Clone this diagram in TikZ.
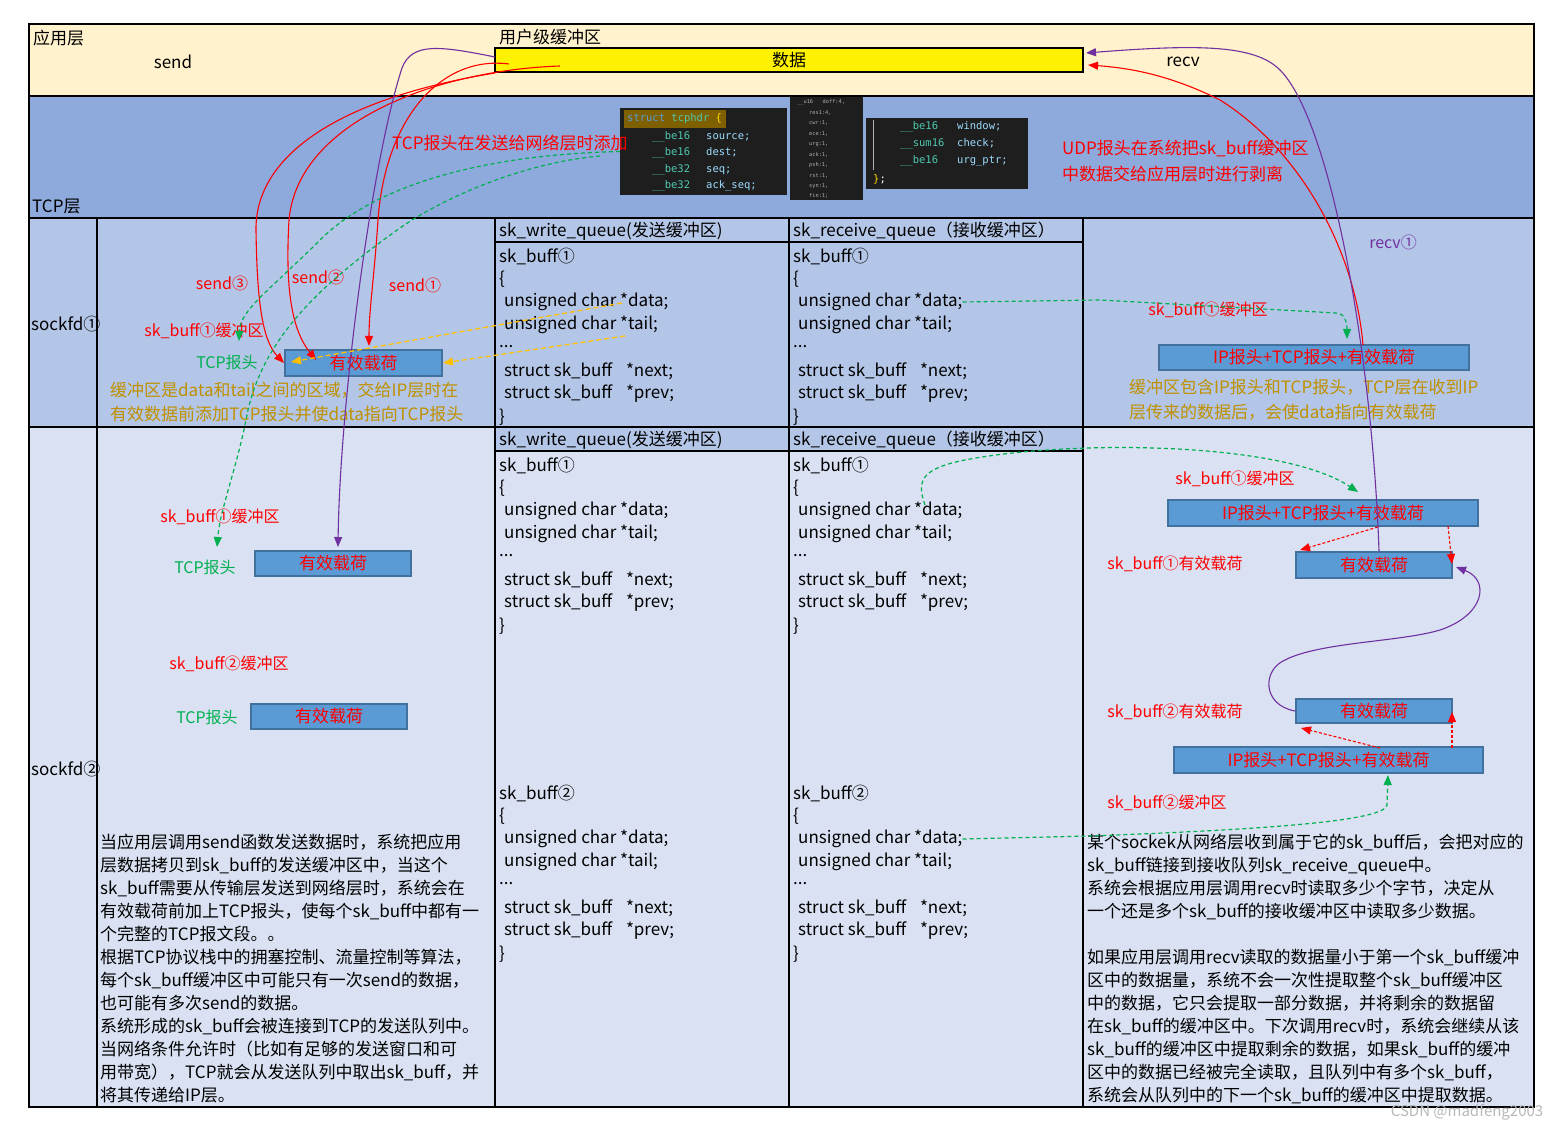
\documentclass[tikz,border=0pt]{standalone}
\usepackage{fontspec}
\setmainfont{Noto Sans CJK SC}
\newfontfamily\codefont{DejaVu Sans Mono}
\usetikzlibrary{arrows.meta}
\definecolor{appbg}{HTML}{FFF2CC}
\definecolor{tcpbg}{HTML}{8EA9DB}
\definecolor{skonebg}{HTML}{B4C6E7}
\definecolor{sktwobg}{HTML}{D9E1F2}
\definecolor{boxfill}{HTML}{5B9BD5}
\definecolor{boxline}{HTML}{41719C}
\definecolor{grn}{HTML}{00B050}
\definecolor{goldtxt}{HTML}{BF9000}
\definecolor{goldline}{HTML}{FFC000}
\definecolor{purp}{HTML}{7030A0}
\definecolor{codebg}{HTML}{1E1E1E}
\definecolor{kw}{HTML}{569CD6}
\definecolor{ty}{HTML}{4EC9B0}
\definecolor{fld}{HTML}{9CDCFE}
\definecolor{brc}{HTML}{FFD700}
\definecolor{hl}{HTML}{7F6000}
\definecolor{tinytxt}{HTML}{B0B0B0}
\newcommand\skstruct[4]{%
  \node[txt] (#1h) at (#2,#3) {#4};
  \node[txt] (#1o) at (#2,#3+23) {\{};
  \node[txt] (#1d) at (#2+5,#3+46) {unsigned char *data;};
  \node[txt] (#1t) at (#2+5,#3+69) {unsigned char *tail;};
  \node[txt, anchor=base west] (#1e) at (#2,#3+91) {...};
  \node[txt] (#1n) at (#2+5,#3+115) {struct sk\_buff\hspace{0.8em}*next;};
  \node[txt] (#1p) at (#2+5,#3+138) {struct sk\_buff\hspace{0.8em}*prev;};
  \node[txt] (#1c) at (#2,#3+161) {\}};
}
\begin{document}
\begin{tikzpicture}[x=1pt,y=-1pt,
  txt/.style={inner sep=0pt, anchor=west, font=\fontsize{17}{23}\selectfont},
  lbl/.style={inner sep=0pt, font=\fontsize{16}{20}\selectfont},
  para/.style={inner sep=0pt, anchor=north west, align=left, font=\fontsize{17}{23}\selectfont},
  payload/.style={draw=boxline, line width=2pt, fill=boxfill, text=red, inner sep=0pt, font=\fontsize{17}{20}\selectfont},
  grid/.style={line width=2pt, draw=black},
  code/.style={inner sep=0pt, anchor=west, text=fld, font=\codefont\fontsize{10.5}{12}\selectfont},
  tinycode/.style={inner sep=0pt, anchor=west, text=tinytxt, font=\codefont\fontsize{5.3}{6}\selectfont},
  tip/.style={-{Triangle[length=10pt,width=8pt]}},
  redl/.style={tip, draw=red, line width=1.1pt},
  purl/.style={tip, draw=purp, line width=1.1pt},
  grnl/.style={tip, draw=grn, line width=1.2pt, dash pattern=on 4pt off 3pt},
  goldl/.style={tip, draw=goldline, line width=1.3pt, dash pattern=on 5pt off 3pt},
  reddash/.style={tip, draw=red, line width=1.1pt, dash pattern=on 3pt off 2pt}
]
\useasboundingbox (0,0) rectangle (1565,1131);
\fill[white] (0,0) rectangle (1565,1131);
% backgrounds
\fill[appbg] (29,24) rectangle (1534,96);
\fill[tcpbg] (29,96) rectangle (1534,218);
\fill[skonebg] (29,218) rectangle (1534,427);
\fill[sktwobg] (29,427) rectangle (1534,1107);
\fill[skonebg] (495,427) rectangle (1083,451);
% grid
\draw[grid] (29,24) rectangle (1534,1107);
\draw[grid] (29,96) -- (1534,96);
\draw[grid] (29,218) -- (1534,218);
\draw[grid] (29,427) -- (1534,427);
\draw[grid] (97,218) -- (97,1107);
\draw[grid] (495,218) -- (495,1107);
\draw[grid] (789,218) -- (789,1107);
\draw[grid] (1083,218) -- (1083,1107);
\draw[grid] (495,242) -- (1083,242);
\draw[grid] (495,451) -- (1083,451);

% application layer
\node[draw, line width=2pt, fill=yellow, minimum width=588pt, minimum height=24pt, inner sep=0pt, font=\fontsize{17}{20}\selectfont] (data) at (789,60) {数据};
\node[txt] (applabel) at (33,38) {应用层};
\node[txt] (ubuf) at (499,37) {用户级缓冲区};
\node[txt, anchor=center] (sendlbl) at (173,62) {send};
\node[txt, anchor=center] (recvlbl) at (1183,62) {recv};

% TCP layer
\node[txt] (tcplabel) at (32,207) {TCP层};
\node[fill=codebg, minimum width=167pt, minimum height=87pt, inner sep=0pt] (hdr1) at (703.5,151.5) {};
\node[fill=codebg, minimum width=73pt, minimum height=103pt, inner sep=0pt] (hdr2) at (826.5,148.5) {};
\node[fill=codebg, minimum width=162pt, minimum height=71pt, inner sep=0pt] (hdr3) at (947,153.5) {};
\fill[hl] (624,110) rectangle (726,128);
\node[code] (c11) at (627,119) {\textcolor{kw}{struct} \textcolor{ty}{tcphdr} \textcolor{brc}{\{}};
\node[code] (c12) at (652,137) {\makebox[54pt][l]{\textcolor{ty}{\_\_be16}}source;};
\node[code] (c13) at (652,153) {\makebox[54pt][l]{\textcolor{ty}{\_\_be16}}dest;};
\node[code] (c14) at (652,170) {\makebox[54pt][l]{\textcolor{ty}{\_\_be32}}seq;};
\node[code] (c15) at (652,186) {\makebox[54pt][l]{\textcolor{ty}{\_\_be32}}ack\_seq;};
\node[tinycode] (t1) at (797,102) {\_\_u16\ \ \ doff:4,};
\node[tinycode] (t2) at (809,112.5) {res1:4,};
\node[tinycode] (t3) at (809,123) {cwr:1,};
\node[tinycode] (t4) at (809,133.5) {ece:1,};
\node[tinycode] (t5) at (809,144) {urg:1,};
\node[tinycode] (t6) at (809,154.5) {ack:1,};
\node[tinycode] (t7) at (809,165) {psh:1,};
\node[tinycode] (t8) at (809,175.5) {rst:1,};
\node[tinycode] (t9) at (809,186) {syn:1,};
\node[tinycode] (t10) at (809,196) {fin:1;};
\draw[gray!60, line width=0.6pt] (873,120) -- (873,170);
\node[code] (c31) at (900,127) {\makebox[57pt][l]{\textcolor{ty}{\_\_be16}}window;};
\node[code] (c32) at (900,144) {\makebox[57pt][l]{\textcolor{ty}{\_\_sum16}}check;};
\node[code] (c33) at (900,161) {\makebox[57pt][l]{\textcolor{ty}{\_\_be16}}urg\_ptr;};
\node[code] (c34) at (873,179) {\textcolor{brc}{\}}\textcolor{white}{;}};
\node[txt, text=red] (tcpadd) at (392,143) {TCP报头在发送给网络层时添加};
\node[txt, text=red] (udpa) at (1062,149) {UDP报头在系统把sk\_buff缓冲区};
\node[txt, text=red] (udpb) at (1062,174) {中数据交给应用层时进行剥离};

% row labels
\node[txt] (sock1) at (31,324) {sockfd①};
\node[txt] (sock2) at (31,769) {sockfd②};

% queue headers
\node[txt] (wq1) at (499,231) {sk\_write\_queue(发送缓冲区)};
\node[txt] (rq1) at (793,231) {sk\_receive\_queue（接收缓冲区）};
\node[txt] (wq2) at (499,440) {sk\_write\_queue(发送缓冲区)};
\node[txt] (rq2) at (793,440) {sk\_receive\_queue（接收缓冲区）};

\skstruct{wa}{499}{256}{sk\_buff①}
\skstruct{ra}{793}{256}{sk\_buff①}
\skstruct{wb}{499}{465}{sk\_buff①}
\skstruct{rb}{793}{465}{sk\_buff①}
\skstruct{wc}{499}{793}{sk\_buff②}
\skstruct{rc}{793}{793}{sk\_buff②}

% left sockfd1
\node[lbl, text=red] (sendthree) at (222,283) {send③};
\node[lbl, text=red] (sendtwo) at (318,277) {send②};
\node[lbl, text=red] (sendone) at (415,285) {send①};
\node[lbl, text=red] (lbufa) at (204,331) {sk\_buff①缓冲区};
\node[lbl, text=grn] (ltcpa) at (227,362) {TCP报头};
\node[payload, minimum width=157pt, minimum height=26pt] (pay1) at (363.5,363) {有效载荷};
\node[txt, text=goldtxt] (golda) at (110,390) {缓冲区是data和tail之间的区域，交给IP层时在};
\node[txt, text=goldtxt] (goldb) at (110,414) {有效数据前添加TCP报头并使data指向TCP报头};

% right sockfd1
\node[lbl, text=purp] (recvone) at (1393,242) {recv①};
\node[lbl, text=red] (rbufa) at (1208,310) {sk\_buff①缓冲区};
\node[payload, minimum width=310pt, minimum height=25pt] (ip1) at (1314,357.5) {IP报头+TCP报头+有效载荷};
\node[txt, text=goldtxt] (goldc) at (1129,387) {缓冲区包含IP报头和TCP报头，TCP层在收到IP};
\node[txt, text=goldtxt] (goldd) at (1129,412) {层传来的数据后，会使data指向有效载荷};

% left sockfd2
\node[lbl, text=red] (lbufb) at (220,517) {sk\_buff①缓冲区};
\node[lbl, text=grn] (ltcpb) at (205,567) {TCP报头};
\node[payload, minimum width=156pt, minimum height=25pt] (pay2) at (333,563.5) {有效载荷};
\node[lbl, text=red] (lbufc) at (229,664) {sk\_buff②缓冲区};
\node[lbl, text=grn] (ltcpc) at (207,717) {TCP报头};
\node[payload, minimum width=156pt, minimum height=25pt] (pay3) at (329,716.5) {有效载荷};

\node[para] (leftpara) at (100,834) {当应用层调用send函数发送数据时，系统把应用\\
层数据拷贝到sk\_buff的发送缓冲区中，当这个\\
sk\_buff需要从传输层发送到网络层时，系统会在\\
有效载荷前加上TCP报头，使每个sk\_buff中都有一\\
个完整的TCP报文段。。\\
根据TCP协议栈中的拥塞控制、流量控制等算法，\\
每个sk\_buff缓冲区中可能只有一次send的数据，\\
也可能有多次send的数据。\\
系统形成的sk\_buff会被连接到TCP的发送队列中。\\
当网络条件允许时（比如有足够的发送窗口和可\\
用带宽），TCP就会从发送队列中取出sk\_buff，并\\
将其传递给IP层。};

% right sockfd2
\node[lbl, text=red] (rbufb) at (1235,479) {sk\_buff①缓冲区};
\node[payload, minimum width=310pt, minimum height=26pt] (ip2) at (1323,513) {IP报头+TCP报头+有效载荷};
\node[lbl, text=red] (rpayla) at (1175,564) {sk\_buff①有效载荷};
\node[payload, minimum width=156pt, minimum height=26pt] (pay4) at (1374,565) {有效载荷};
\node[lbl, text=red] (rpaylb) at (1175,712) {sk\_buff②有效载荷};
\node[payload, minimum width=156pt, minimum height=24pt] (pay5) at (1374,711) {有效载荷};
\node[payload, minimum width=309pt, minimum height=26pt] (ip3) at (1328.5,760) {IP报头+TCP报头+有效载荷};
\node[lbl, text=red] (rbufc) at (1167,803) {sk\_buff②缓冲区};

\node[para] (rightpara) at (1087,834) {某个sockek从网络层收到属于它的sk\_buff后，会把对应的\\
sk\_buff链接到接收队列sk\_receive\_queue中。\\
系统会根据应用层调用recv时读取多少个字节，决定从\\
一个还是多个sk\_buff的接收缓冲区中读取多少数据。\\
\mbox{}\\
如果应用层调用recv读取的数据量小于第一个sk\_buff缓冲\\
区中的数据量，系统不会一次性提取整个sk\_buff缓冲区\\
中的数据，它只会提取一部分数据，并将剩余的数据留\\
在sk\_buff的缓冲区中。下次调用recv时，系统会继续从该\\
sk\_buff的缓冲区中提取剩余的数据，如果sk\_buff的缓冲\\
区中的数据已经被完全读取，且队列中有多个sk\_buff，\\
系统会从队列中的下一个sk\_buff的缓冲区中提取数据。};

\node[inner sep=0pt, text=black!28, font=\fontsize{15}{15}\selectfont] (wm) at (1467,1112) {CSDN @madfeng2003};

% ---------- connectors ----------
\coordinate (sonestart) at (509,64);
\coordinate (stwostart) at (560,66);
\coordinate (sthreestart) at (495,73);
\coordinate (soneend) at (369,346);
\coordinate (stwoend) at (316,360);
\coordinate (pstart) at (495,57);
\coordinate (pend) at (338,547);
\draw[redl] (sonestart) .. controls (440,55) and (385,120) .. (378,220) .. controls (374,280) and (369,310) .. (soneend);
\draw[redl] (stwostart) .. controls (440,70) and (298,120) .. (289,220) .. controls (285,290) and (292,330) .. (stwoend);
\draw[redl] (sthreestart) .. controls (330,100) and (255,160) .. (256,230) .. controls (257,300) and (262,340) .. (pay1.west);
\draw[purl] (pstart) .. controls (440,46) and (412,42) .. (402,68) .. controls (372,160) and (340,400) .. (pend);

% green dashed from tcphdr
\coordinate (gastart) at (hdr1.west);
\coordinate (gaend) at (239,341);
\coordinate (gbstart) at (600,156);
\coordinate (gbend) at (217,547);
\draw[grnl] (gastart) .. controls (470,155) and (370,190) .. (320,240) .. controls (270,290) and (240,310) .. (gaend);
\draw[grnl] (gbstart) .. controls (520,163) and (440,200) .. (400,228) .. controls (320,285) and (260,340) .. (246,420) .. controls (236,470) and (220,510) .. (gbend);

% gold dashed
\coordinate (gdstart) at (622,303);
\coordinate (gdend) at (291,362);
\coordinate (gtstart) at (625,336);
\draw[goldl] (gdstart) -- (gdend);
\draw[goldl] (gtstart) -- (pay1.east);

% recv curves
\coordinate (rrstart) at (1363,345);
\coordinate (rrend) at (1088,65);
\coordinate (prstart) at (1379,551);
\coordinate (prend) at (1086,53);
\draw[redl] (rrstart) .. controls (1355,250) and (1300,150) .. (1220,100) .. controls (1170,75) and (1130,68) .. (rrend);
\draw[purl] (prstart) .. controls (1372,350) and (1330,120) .. (1280,70) .. controls (1255,45) and (1200,44) .. (prend);

% green dashed on the right
\coordinate (gra) at (1347,339);
\draw[grnl] (rad.east) -- (1100,300) -- (1336,313) to[out=0,in=90] (gra);
\coordinate (grbstart) at (925,505);
\coordinate (grbend) at (1358,492);
\draw[grnl] (grbstart) .. controls (917,482) and (920,470) .. (960,461) .. controls (1060,440) and (1280,440) .. (grbend);
\coordinate (grcend) at (1388,775);
\draw[grnl] (rcd.east) -- (1090,836) .. controls (1250,830) and (1385,822) .. (1387,805) -- (grcend);

% red dashed, right sockfd2
\coordinate (rda) at (1378,527);
\coordinate (rdae) at (1300,550);
\coordinate (rdb) at (1448,526);
\coordinate (rdbe) at (1452,564);
\coordinate (rdc) at (1380,748);
\coordinate (rdce) at (1301,728);
\coordinate (rdd) at (1452,748);
\coordinate (rdde) at (1452,712);
\draw[reddash] (rda) -- (rdae);
\draw[reddash] (rdb) -- (rdbe);
\draw[reddash] (rdc) -- (rdce);
\draw[reddash] (rdd) -- (rdde);

% purple link between payloads
\coordinate (plend) at (1456,567);
\draw[purl] (pay5.west) .. controls (1262,705) and (1262,670) .. (1285,660) .. controls (1320,642) and (1400,642) .. (1440,630) .. controls (1485,615) and (1490,580) .. (plend);
\end{tikzpicture}
\end{document}
